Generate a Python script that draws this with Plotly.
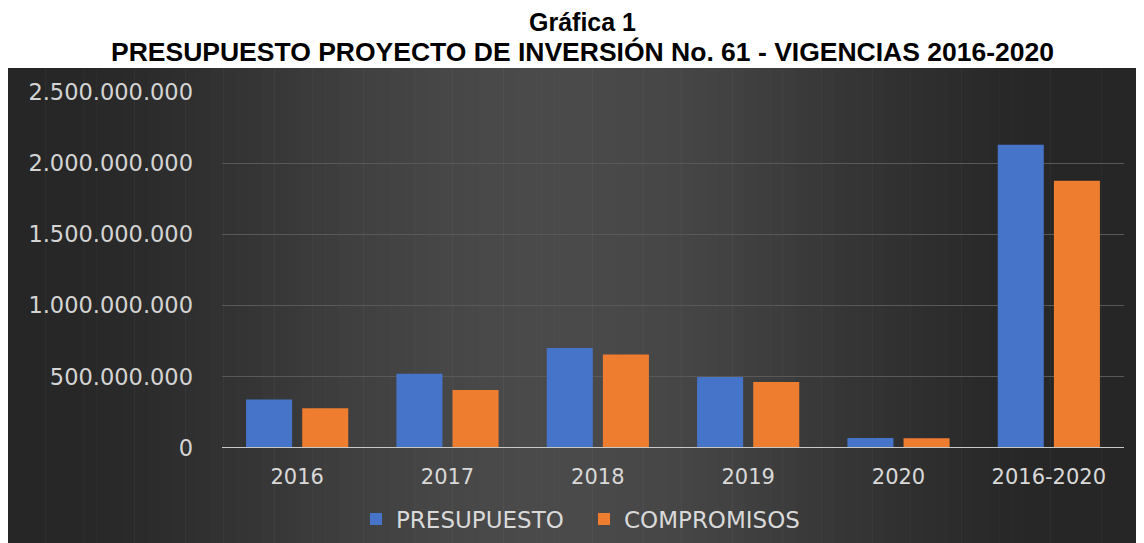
import math
import plotly.graph_objects as go

categories = ["2016", "2017", "2018", "2019", "2020", "2016-2020"]
presupuesto = [341e6, 522e6, 702e6, 499e6, 70e6, 2129e6]
compromisos = [280e6, 408e6, 657e6, 464e6, 69e6, 1877e6]
series_names = ["PRESUPUESTO", "COMPROMISOS"]
y_ticks = [0, 5e8, 1e9, 1.5e9, 2e9, 2.5e9]

OFF = 8  # page body margin of the browser
W, H = 1144, 543
L, R, T, B = 222 - OFF, 20 + OFF, 92 - OFF, 94 + OFF
pw, ph = W - L - R, H - T - B

def px(xp):
    return (xp - OFF - L) / pw

def py(yp):
    return (H - B - (yp - OFF)) / ph

fig = go.Figure()
fig.add_bar(x=categories, y=presupuesto, name=series_names[0],
            marker=dict(color="#4674c9", line=dict(width=0)))
fig.add_bar(x=categories, y=compromisos, name=series_names[1],
            marker=dict(color="#ee7d2f", line=dict(width=0)))

# dark panel with a horizontal gradient approximated by strips
shapes = []
x0p, x1p, y0p, y1p = 7, W + OFF, 68, H + OFF
n = 90
def shade(t):
    v = 0.5 - 0.5 * math.cos(2 * math.pi * min(1.0, t * 1.05))
    return 38 + int(round(v * 36))
for i in range(n):
    a = x0p + (x1p - x0p) * i / n
    b = x0p + (x1p - x0p) * (i + 1) / n + 0.6
    t = (i + 0.5) / n
    c = shade(t)
    shapes.append(dict(type="rect", xref="paper", yref="paper",
                       x0=px(a), x1=px(b), y0=py(y1p), y1=py(y0p),
                       line=dict(width=0), fillcolor=f"rgb({c},{c},{c})",
                       layer="below"))
# zero line
shapes.append(dict(type="line", xref="paper", yref="y", x0=0, x1=1, y0=0, y1=0,
                   line=dict(color="#c8c8c8", width=2), layer="above"))

fig.update_layout(
    width=W, height=H,
    margin=dict(l=L, r=R, t=T, b=B, pad=0),
    paper_bgcolor="white", plot_bgcolor="rgba(0,0,0,0)",
    separators=",.",
    barmode="group", bargap=0.253, bargroupgap=0.18,
    shapes=shapes,
    showlegend=True,
    legend=dict(orientation="h", x=px(356), xanchor="left", y=py(519), yanchor="middle",
                font=dict(family="DejaVu Sans", size=23, color="#d9d9d9"),
                entrywidth=183, entrywidthmode="pixels",
                bgcolor="rgba(0,0,0,0)", tracegroupgap=0),
    font=dict(family="DejaVu Sans", color="#d9d9d9"),
    annotations=[
        dict(text="<b>Gráfica 1</b>", xref="paper", yref="paper", x=px(582), y=py(22),
             xanchor="center", yanchor="middle", showarrow=False,
             font=dict(family="Liberation Sans, Arial", size=25, color="black")),
        dict(text="<b>PRESUPUESTO PROYECTO DE INVERSIÓN No. 61 - VIGENCIAS 2016-2020</b>",
             xref="paper", yref="paper", x=px(582), y=py(52),
             xanchor="center", yanchor="middle", showarrow=False,
             font=dict(family="Liberation Sans, Arial", size=26.5, color="black")),
    ],
)
fig.update_yaxes(range=[0, 2.5e9], tickvals=y_ticks, tickformat=",.0f",
                 showgrid=True, gridcolor="#595959", gridwidth=1,
                 zeroline=False, showline=False, ticks="",
                 ticklabelstandoff=28,
                 tickfont=dict(family="DejaVu Sans", size=22.5, color="#d4d4d4"))
fig.update_xaxes(showgrid=False, showline=False, ticks="", zeroline=False,
                 ticklabelstandoff=14,
                 tickfont=dict(family="DejaVu Sans", size=21, color="#d9d9d9"))

fig.write_html("out.html")
